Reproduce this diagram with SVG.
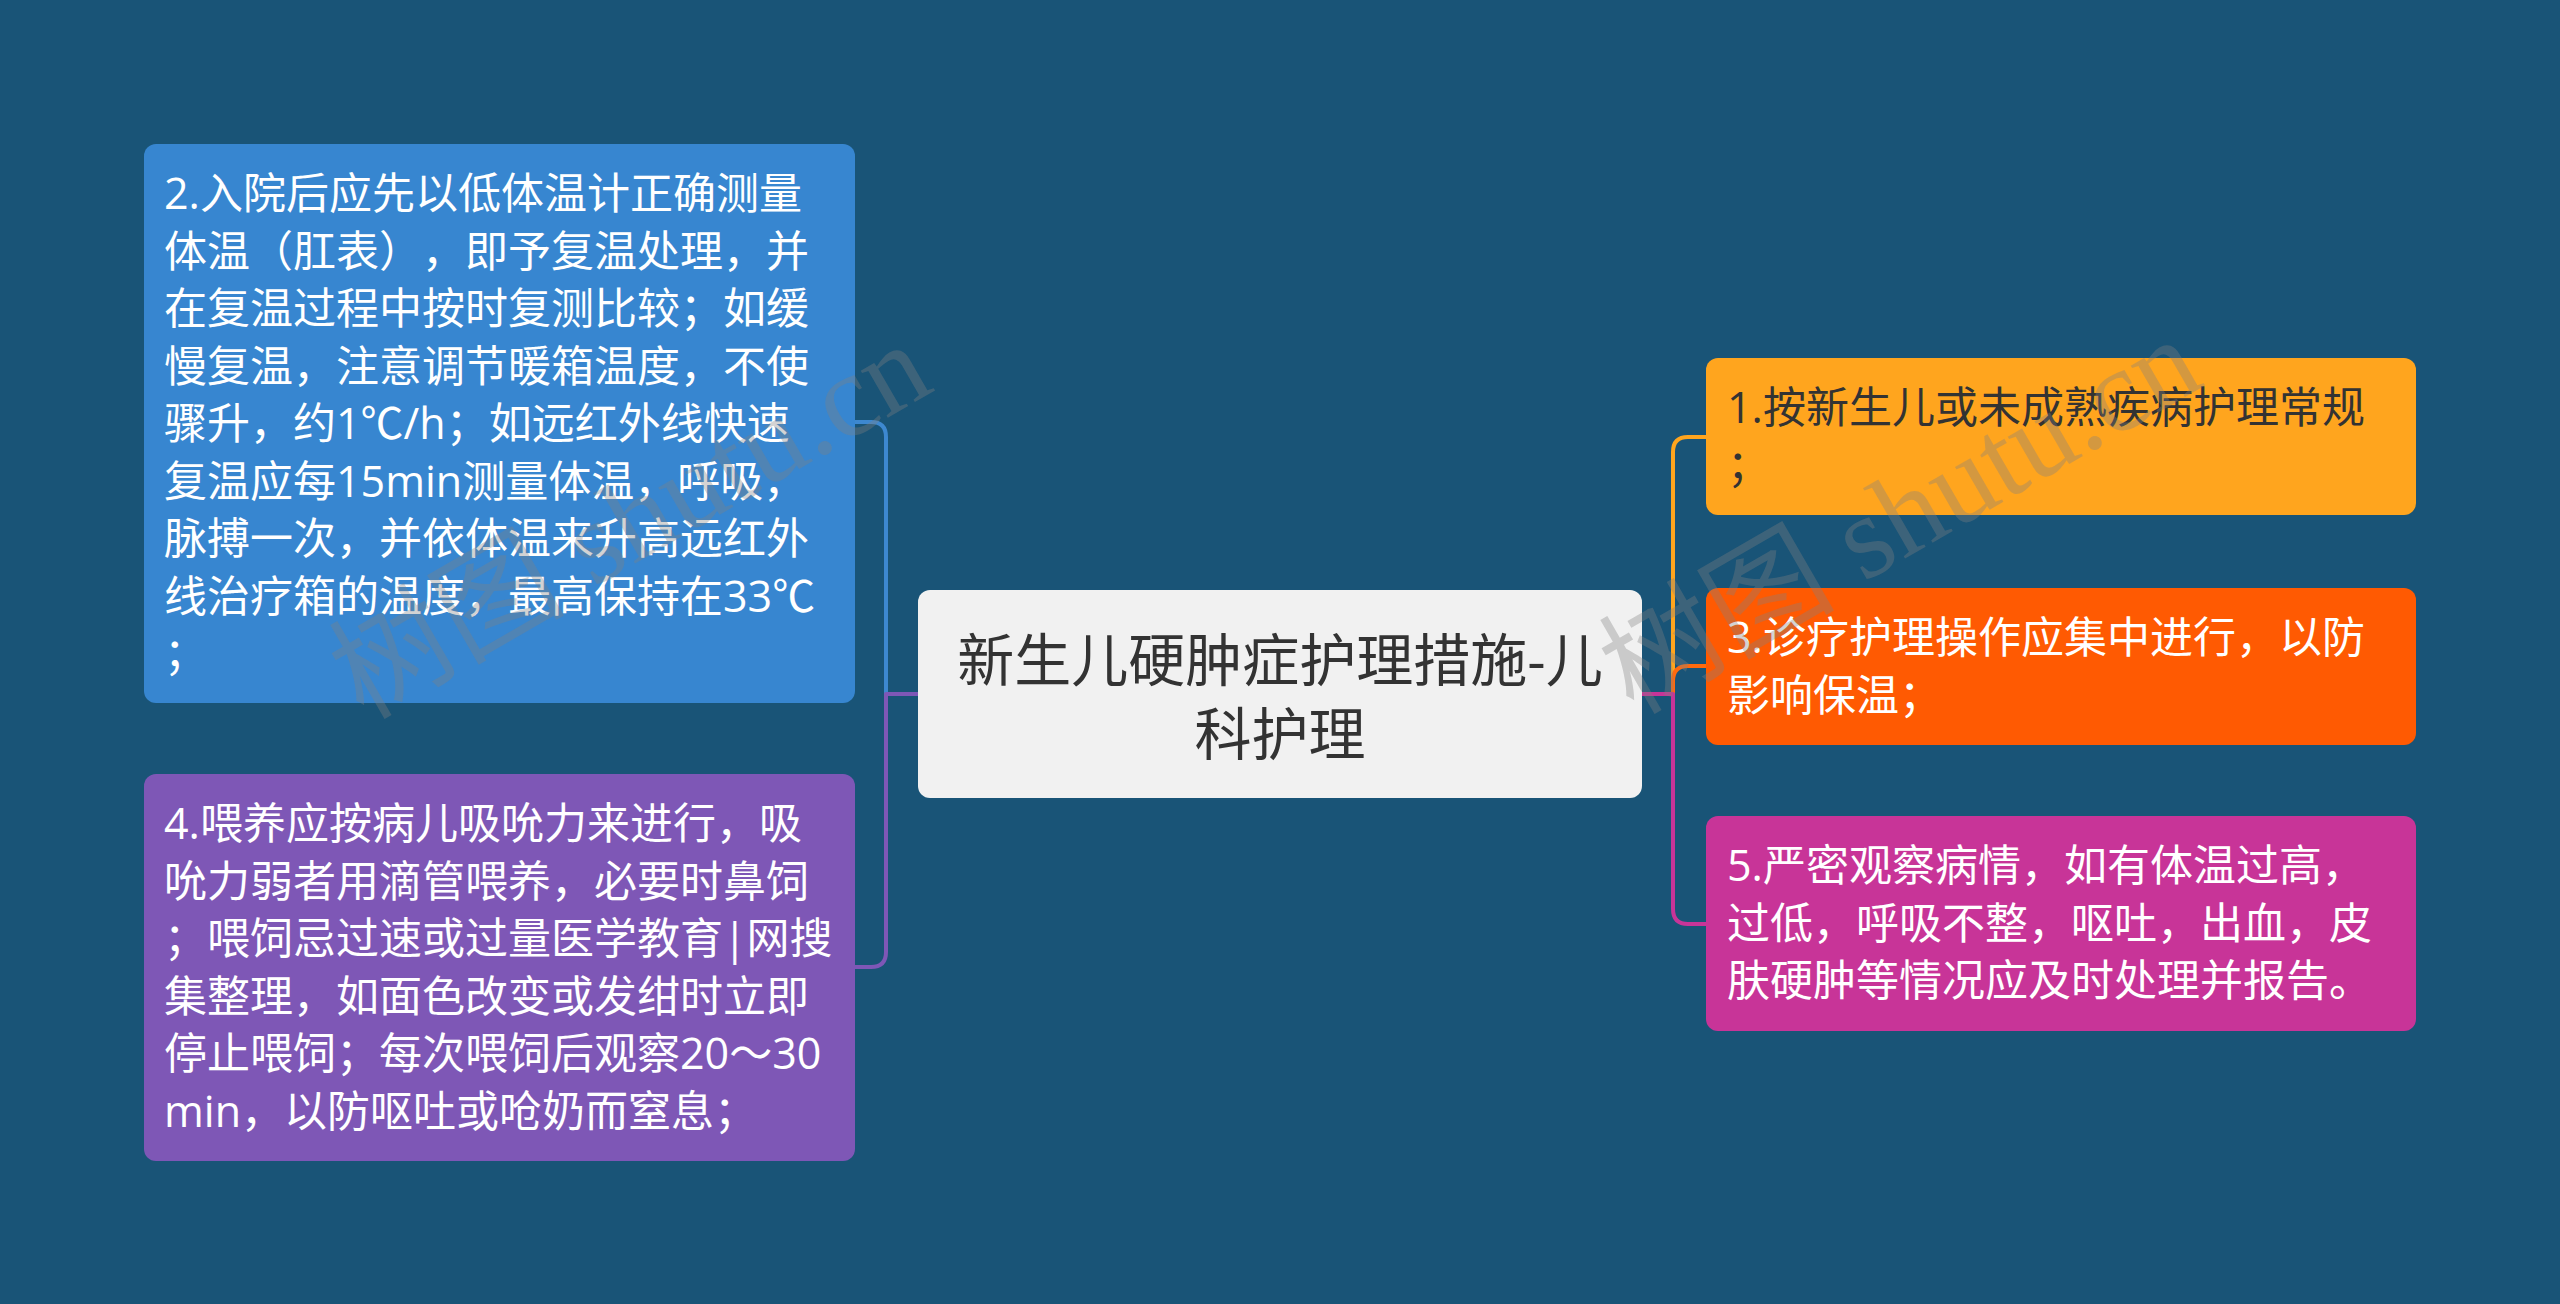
<svg xmlns="http://www.w3.org/2000/svg" width="2560" height="1304" viewBox="0 0 2560 1304">
<style>
.t{font-family:"Open Sans","Noto Sans CJK SC",sans-serif;font-size:43px;fill:#ffffff;text-spacing-trim:space-all}
.dark{fill:#333333}
.ct{font-family:"Open Sans","Noto Sans CJK SC",sans-serif;font-size:57px;fill:#333333;text-anchor:middle}
.wm{font-family:"Liberation Serif","Noto Sans CJK SC",serif;font-size:118px;fill:#808080;fill-opacity:0.35;text-anchor:middle}
.c{fill:none;stroke-width:4;stroke-linecap:round;stroke-linejoin:round}
</style>
<rect x="0" y="0" width="2560" height="1304" fill="#195477"/>
<g id="connectors">
<path class="c" stroke="#3d88d0" d="M918 694 H886 V437 Q886 422 871 422 H855"/>
<path class="c" stroke="#7e57b6" d="M918 694 H886 V952 Q886 967 871 967 H855"/>
<path class="c" stroke="#ffa51e" d="M1642 694 H1673 V452 Q1673 437 1688 437 H1706"/>
<path class="c" stroke="#ff6a0e" d="M1642 694 H1673 V681 Q1673 666 1688 666 H1706"/>
<path class="c" stroke="#c83498" d="M1642 694 H1673 V909 Q1673 924 1688 924 H1706"/>
</g>
<g id="center">
<rect x="918" y="590" width="724" height="208" rx="12" fill="#f1f1f1"/>
<text class="ct" x="1280" y="681">新生儿硬肿症护理措施-儿</text>
<text class="ct" x="1280" y="755">科护理</text>
</g>
<g id="node2">
<rect x="144" y="144" width="711" height="559" rx="12" fill="#3786d0"/>
<text class="t" x="164" y="209">2.入院后应先以低体温计正确测量</text>
<text class="t" x="164" y="266.5">体温（肛表），即予复温处理，并</text>
<text class="t" x="164" y="324">在复温过程中按时复测比较；如缓</text>
<text class="t" x="164" y="381.5">慢复温，注意调节暖箱温度，不使</text>
<text class="t" x="164" y="439">骤升，约1℃/h；如远红外线快速</text>
<text class="t" x="164" y="496.5">复温应每15min测量体温，呼吸，</text>
<text class="t" x="164" y="554">脉搏一次，并依体温来升高远红外</text>
<text class="t" x="164" y="611.5">线治疗箱的温度，最高保持在33℃</text>
<text class="t" x="164" y="669">；</text>
</g>
<g id="node4">
<rect x="144" y="774" width="711" height="387" rx="12" fill="#7e57b6"/>
<text class="t" x="164" y="839">4.喂养应按病儿吸吮力来进行，吸</text>
<text class="t" x="164" y="896.5">吮力弱者用滴管喂养，必要时鼻饲</text>
<text class="t" x="164" y="954">；喂饲忌过速或过量医学教育|网搜</text>
<text class="t" x="164" y="1011.5">集整理，如面色改变或发绀时立即</text>
<text class="t" x="164" y="1069">停止喂饲；每次喂饲后观察20～30</text>
<text class="t" x="164" y="1126.5">min，以防呕吐或呛奶而窒息；</text>
</g>
<g id="node1">
<rect x="1706" y="358" width="710" height="157" rx="12" fill="#ffa51e"/>
<text class="t dark" x="1727" y="423">1.按新生儿或未成熟疾病护理常规</text>
<text class="t dark" x="1727" y="480.5">；</text>
</g>
<g id="node3">
<rect x="1706" y="588" width="710" height="157" rx="12" fill="#ff5a02"/>
<text class="t" x="1727" y="653">3.诊疗护理操作应集中进行，以防</text>
<text class="t" x="1727" y="710.5">影响保温；</text>
</g>
<g id="node5">
<rect x="1706" y="816" width="710" height="215" rx="12" fill="#c83498"/>
<text class="t" x="1727" y="881">5.严密观察病情，如有体温过高，</text>
<text class="t" x="1727" y="938.5">过低，呼吸不整，呕吐，出血，皮</text>
<text class="t" x="1727" y="996">肤硬肿等情况应及时处理并报告。</text>
</g>
<g id="watermark">
<text class="wm" transform="translate(650 555) rotate(-30)">树图 shutu.cn</text>
<text class="wm" transform="translate(1920 550) rotate(-30)">树图 shutu.cn</text>
</g>
</svg>
